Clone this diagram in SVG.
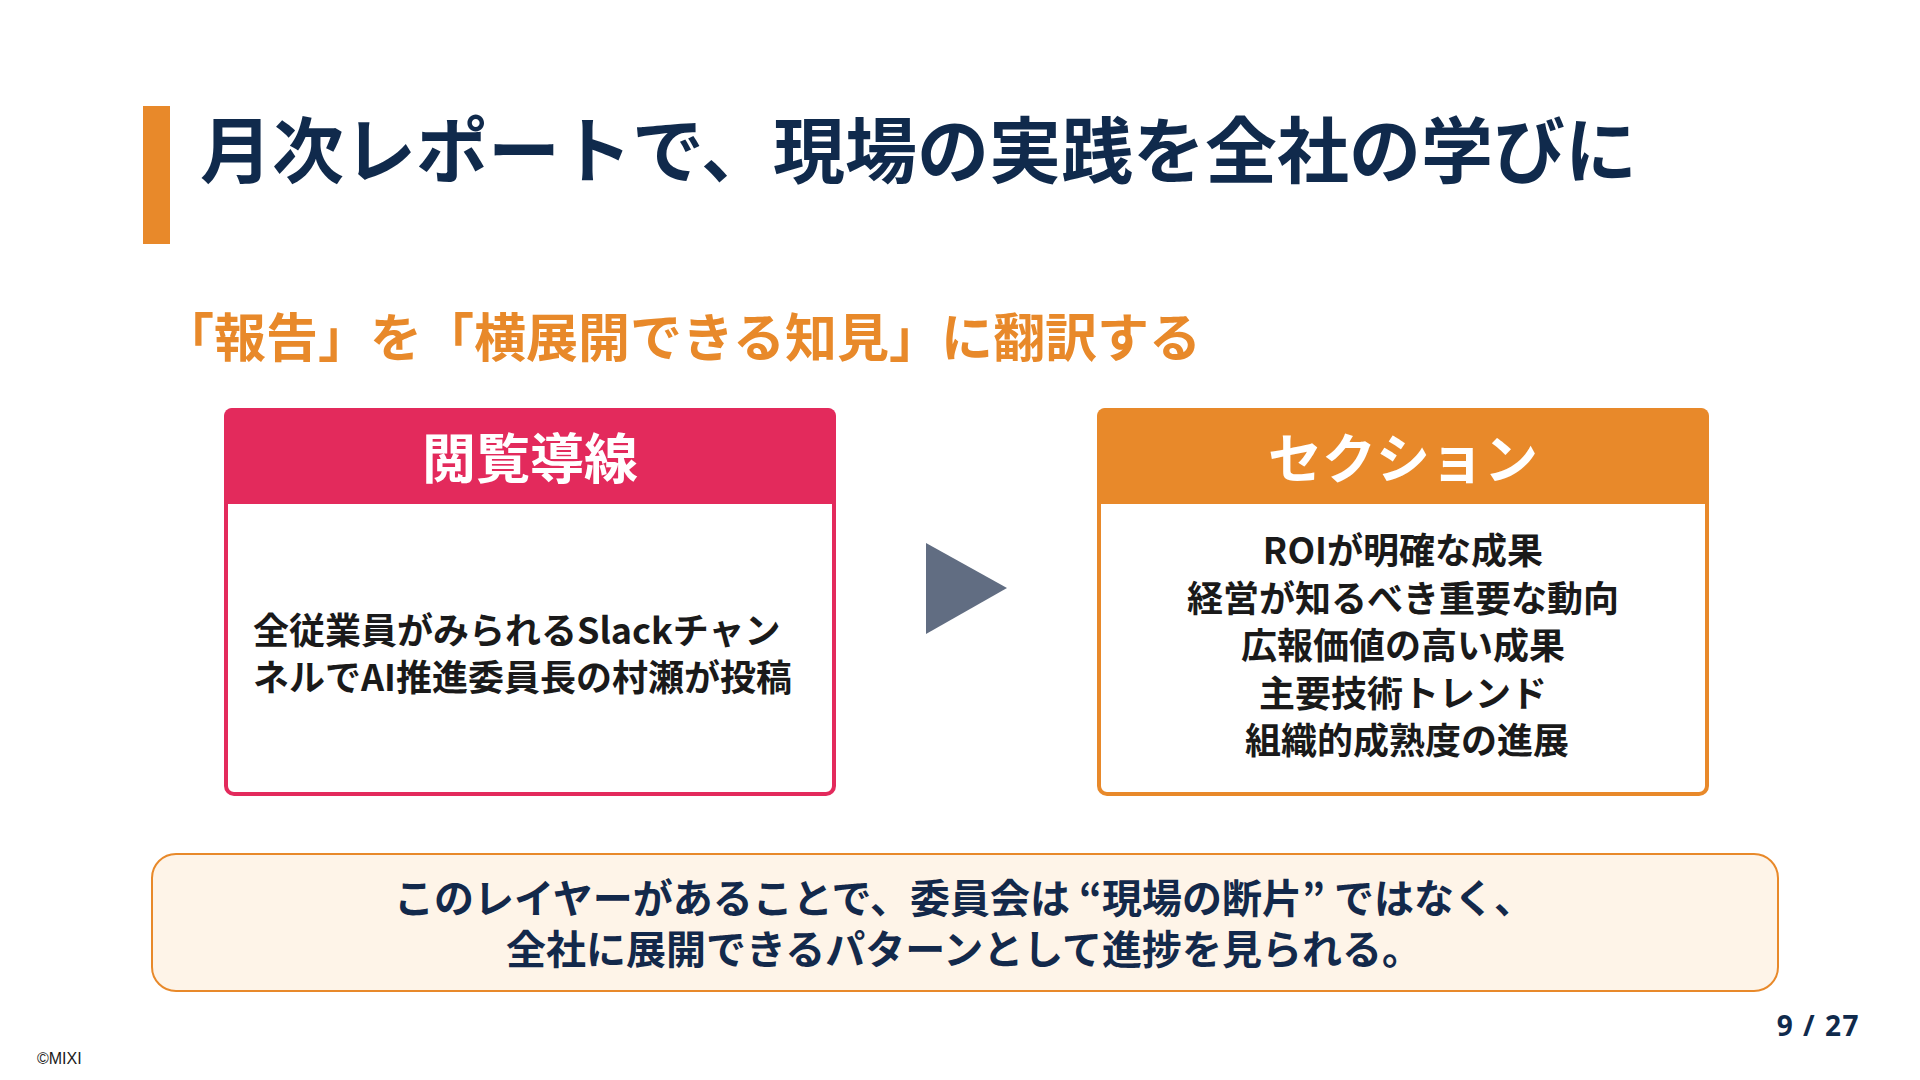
<svg xmlns="http://www.w3.org/2000/svg" width="1920" height="1080" viewBox="0 0 1920 1080">
<style>
.jp{font-family:"Noto Sans CJK JP","Noto Sans",sans-serif;font-weight:700}
.title{font-size:72px;fill:#102A4C}
.sub{font-size:52px;fill:#E8892A}
.head{font-size:54px;fill:#FFFFFF}
.body{font-size:36px;fill:#1A1A1A}
.note{font-size:40px;fill:#13294B}
</style>
<rect width="1920" height="1080" fill="#FFFFFF"/>
<g id="title">
<rect x="143" y="106" width="27" height="138" fill="#E8892A"/>
<text class="jp title" x="200" y="177">月次レポートで、現場の実践を全社の学びに</text>
</g>
<g id="subtitle">
<text class="jp sub" x="162" y="357">「報告」を「横展開できる知見」に翻訳する</text>
</g>
<g id="node-left">
<rect x="226" y="410" width="608" height="384" rx="8" fill="#FFFFFF" stroke="#E32A5C" stroke-width="4"/>
<path d="M224 504 V416 a8 8 0 0 1 8 -8 H828 a8 8 0 0 1 8 8 V504 Z" fill="#E32A5C"/>
<text class="jp head" x="530" y="479" text-anchor="middle">閲覧導線</text>
<text class="jp body" x="253" y="644">全従業員がみられるSlackチャン</text>
<text class="jp body" x="253" y="691">ネルでAI推進委員長の村瀬が投稿</text>
</g>
<g id="connectors">
<polygon points="926,543 1007,588 926,634" fill="#616D82"/>
</g>
<g id="node-right">
<rect x="1099" y="410" width="608" height="384" rx="8" fill="#FFFFFF" stroke="#E8892A" stroke-width="4"/>
<path d="M1097 504 V416 a8 8 0 0 1 8 -8 H1701 a8 8 0 0 1 8 8 V504 Z" fill="#E8892A"/>
<text class="jp head" x="1403" y="479" text-anchor="middle">セクション</text>
<text class="jp body" text-anchor="middle">
<tspan x="1407" y="564">ROIが明確な成果</tspan>
<tspan x="1407" y="611.5">経営が知るべき重要な動向</tspan>
<tspan x="1407" y="659">広報価値の高い成果</tspan>
<tspan x="1407" y="706.5">主要技術トレンド</tspan>
<tspan x="1407" y="754">組織的成熟度の進展</tspan>
</text>
</g>
<g id="note">
<rect x="152" y="854" width="1626" height="137" rx="24" fill="#FEF4E8" stroke="#E8892A" stroke-width="2"/>
<text class="jp note" x="964" y="913" text-anchor="middle">このレイヤーがあることで、委員会は “現場の断片” ではなく、</text>
<text class="jp note" x="964" y="964" text-anchor="middle">全社に展開できるパターンとして進捗を見られる。</text>
</g>
<g id="footer">
<text x="37" y="1064" font-family="Liberation Sans, sans-serif" font-size="16" fill="#1A1A1A">©MIXI</text>
<text x="1860" y="1036" text-anchor="end" font-family="Noto Sans, sans-serif" font-weight="700" font-size="28" letter-spacing="1.5" fill="#102A4C">9 / 27</text>
</g>
</svg>
